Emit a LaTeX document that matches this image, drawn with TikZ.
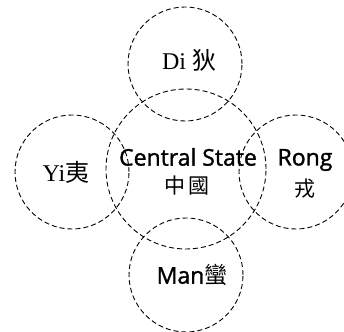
\documentclass[tikz,border=0pt]{standalone}
\usepackage{fontspec}
\setmainfont{Liberation Serif}
\setsansfont{Open Sans}[FakeBold=1.4]
\newfontfamily\cjk{Noto Sans CJK TC}
\usetikzlibrary{positioning}

\begin{document}
\begin{tikzpicture}[
x=1pt, y=1pt,
region/.style={circle, draw=black, line width=0.9pt, dash pattern=on 5pt off 3pt, inner sep=0pt, minimum size=114pt},
core/.style={region, minimum size=160pt},
serifname/.style={inner sep=0pt, font=\fontsize{24}{26}\selectfont},
sansname/.style={inner sep=0pt, font=\sffamily\fontsize{23}{25}\selectfont},
hanzi/.style={inner sep=0pt, font=\cjk\fontsize{21}{23}\selectfont}]

\useasboundingbox (0,0) rectangle (344,331);

% the five regions
\node[core] (cs) at (186,162) {};
\node[region] (di) at (185,267) {};
\node[region] (yi) at (72,159) {};
\node[region] (rong) at (296,159) {};
\node[region] (man) at (186,56) {};

% names
\node[serifname] (dit) at (189,271) {Di {\cjk 狄}};
\node[serifname] (yit) at (66,159) {Yi{\cjk 夷}};
\node[sansname] (cst) at (188,174) {Central State};
\node[hanzi] (csh) at (187,145) {中\,國};
\node[sansname] (rongt) at (305,171) {Rong};
\node[hanzi] (rongh) at (305,142) {戎};
\node[sansname] (mant) at (192,56) {Man{\cjk 蠻}};
\end{tikzpicture}
\end{document}
